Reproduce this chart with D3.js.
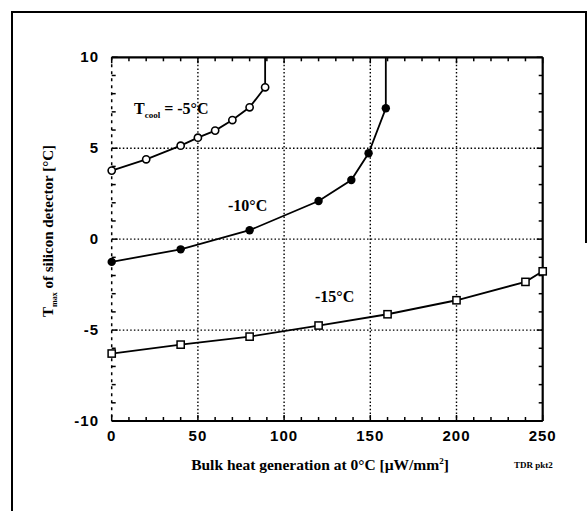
<!DOCTYPE html>
<html>
<head>
<meta charset="utf-8">
<script src="https://cdn.jsdelivr.net/npm/d3@7"></script>
<style>
  html, body { margin: 0; padding: 0; background: #fff; }
  svg { display: block; }
  .tick-label { font-family: "Liberation Sans", Arial, sans-serif; font-weight: bold; font-size: 15px; fill: #000; }
  .serif { font-family: "Liberation Serif", "Times New Roman", serif; font-weight: bold; fill: #000; }
</style>
</head>
<body>
<svg id="chart" width="588" height="511"></svg>
<script>
// Bulk heat generation [µW/mm²] vs. max silicon temperature [°C], per coolant temperature
const xTicks = [0, 50, 100, 150, 200, 250];
const yTicks = [-10, -5, 0, 5, 10];

const coolM5X = [0, 20, 40, 50, 60, 70, 80, 89];
const coolM5Y = [3.77, 4.39, 5.14, 5.58, 5.97, 6.55, 7.25, 8.35];
const runawayM5X = 89;

const coolM10X = [0, 40, 80, 120, 139, 149, 159];
const coolM10Y = [-1.25, -0.56, 0.49, 2.1, 3.25, 4.72, 7.2];
const runawayM10X = 159;

const coolM15X = [0, 40, 80, 120, 160, 200, 240, 250];
const coolM15Y = [-6.29, -5.8, -5.36, -4.75, -4.13, -3.36, -2.35, -1.77];

const svg = d3.select("#chart");

const x = d3.scaleLinear().domain([0, 250]).range([111.7, 542.7]);
const y = d3.scaleLinear().domain([-10, 10]).range([421, 57.3]);

// outer frame (left, top, right edges)
svg.append("path")
  .attr("d", "M12,511 L12,12 L586,12 L586,243")
  .attr("fill", "none").attr("stroke", "#000").attr("stroke-width", 2);

// dotted grid at the major ticks
const g = svg.append("g");
g.selectAll(".vgrid").data(xTicks.filter(v => v > 0 && v < 250)).join("line")
  .attr("x1", d => x(d)).attr("x2", d => x(d))
  .attr("y1", y(10)).attr("y2", y(-10))
  .attr("stroke", "#000").attr("stroke-width", 1.4).attr("stroke-dasharray", "1.5,2.2");
g.selectAll(".hgrid").data(yTicks.filter(v => v > -10 && v < 10)).join("line")
  .attr("x1", x(0)).attr("x2", x(250))
  .attr("y1", d => y(d)).attr("y2", d => y(d))
  .attr("stroke", "#000").attr("stroke-width", 1.4).attr("stroke-dasharray", "1.5,2.2");

// axes: bottom, top and right solid, left dashed
const minorX = d3.range(0, 251, 10);
const minorY = d3.range(-10, 11, 1);
const axG = svg.append("g").attr("stroke", "#000");
axG.append("line").attr("x1", x(0)).attr("x2", x(250)).attr("y1", y(-10)).attr("y2", y(-10)).attr("stroke-width", 2.2);
axG.append("line").attr("x1", x(0)).attr("x2", x(250)).attr("y1", y(10)).attr("y2", y(10)).attr("stroke-width", 2.2);
axG.append("line").attr("x1", x(250)).attr("x2", x(250)).attr("y1", y(10)).attr("y2", y(-10)).attr("stroke-width", 2.2);
axG.append("line").attr("x1", x(0)).attr("x2", x(0)).attr("y1", y(10)).attr("y2", y(-10))
  .attr("stroke-width", 1.5).attr("stroke-dasharray", "3,4");

axG.selectAll(".tb").data(minorX).join("line")
  .attr("x1", d => x(d)).attr("x2", d => x(d))
  .attr("y1", y(-10)).attr("y2", d => y(-10) - (d % 50 === 0 ? 6 : 4)).attr("stroke-width", 1.5);
axG.selectAll(".tt").data(minorX).join("line")
  .attr("x1", d => x(d)).attr("x2", d => x(d))
  .attr("y1", y(10)).attr("y2", d => y(10) + (d % 50 === 0 ? 6 : 4)).attr("stroke-width", 1.5);
axG.selectAll(".tr").data(minorY).join("line")
  .attr("x1", x(250)).attr("x2", d => x(250) - (d % 5 === 0 ? 6 : 4))
  .attr("y1", d => y(d)).attr("y2", d => y(d)).attr("stroke-width", 1.5);
axG.selectAll(".tl").data(minorY).join("line")
  .attr("x1", x(0)).attr("x2", d => x(0) + (d % 5 === 0 ? 6 : 4))
  .attr("y1", d => y(d)).attr("y2", d => y(d)).attr("stroke-width", 1.5);

// tick labels
svg.selectAll(".xl").data(xTicks).join("text")
  .attr("class", "tick-label").attr("text-anchor", "middle")
  .attr("x", d => x(d)).attr("y", 441)
  .style("letter-spacing", "1px")
  .text(d => d);
svg.selectAll(".yl").data(yTicks).join("text")
  .attr("class", "tick-label").attr("text-anchor", "end")
  .attr("x", 99).attr("y", d => y(d) + 5)
  .style("letter-spacing", "1px")
  .text(d => d);

// curves
const line = d3.line().x(d => x(d[0])).y(d => y(d[1]));
function zip(xs, ys) { return xs.map((v, i) => [v, ys[i]]); }

const m5 = zip(coolM5X, coolM5Y);
const m10 = zip(coolM10X, coolM10Y);
const m15 = zip(coolM15X, coolM15Y);

const curves = svg.append("g").attr("fill", "none").attr("stroke", "#000").attr("stroke-width", 1.8);
curves.append("path").attr("d", line(m5.concat([[runawayM5X, 10]])));
curves.append("path").attr("d", line(m10.concat([[runawayM10X, 10]])));
curves.append("path").attr("d", line(m15));

// markers
svg.append("g").selectAll("circle").data(m5).join("circle")
  .attr("cx", d => x(d[0])).attr("cy", d => y(d[1])).attr("r", 3.6)
  .attr("fill", "#fff").attr("stroke", "#000").attr("stroke-width", 1.6);
svg.append("g").selectAll("circle").data(m10).join("circle")
  .attr("cx", d => x(d[0])).attr("cy", d => y(d[1])).attr("r", 4.2)
  .attr("fill", "#000");
svg.append("g").selectAll("rect").data(m15).join("rect")
  .attr("x", d => x(d[0]) - 3.6).attr("y", d => y(d[1]) - 3.6)
  .attr("width", 7.2).attr("height", 7.2)
  .attr("fill", "#fff").attr("stroke", "#000").attr("stroke-width", 1.5);

// curve labels
const l1 = svg.append("text").attr("class", "serif").attr("x", 134).attr("y", 114).attr("font-size", 16);
l1.append("tspan").text("T");
l1.append("tspan").attr("font-size", 9).attr("dy", 4).text("cool");
l1.append("tspan").attr("dy", -4).text(" = -5°C");
svg.append("text").attr("class", "serif").attr("x", 228).attr("y", 211).attr("font-size", 16).text("-10°C");
svg.append("text").attr("class", "serif").attr("x", 315).attr("y", 302).attr("font-size", 16).text("-15°C");

// axis titles
const yt = svg.append("text").attr("class", "serif").attr("font-size", 15)
  .attr("transform", "translate(53,231) rotate(-90)").attr("text-anchor", "middle");
yt.append("tspan").text("T");
yt.append("tspan").attr("font-size", 8).attr("dy", 4).text("max");
yt.append("tspan").attr("dy", -4).text(" of silicon detector [°C]");

const xt = svg.append("text").attr("class", "serif").attr("font-size", 15.5)
  .attr("x", 320).attr("y", 470).attr("text-anchor", "middle");
xt.append("tspan").text("Bulk heat generation at 0°C [µW/mm");
xt.append("tspan").attr("font-size", 9).attr("dy", -6).text("2");
xt.append("tspan").attr("dy", 6).text("]");

svg.append("text").attr("class", "serif").attr("font-size", 9)
  .attr("x", 514).attr("y", 468).text("TDR pkt2");
</script>
</body>
</html>
